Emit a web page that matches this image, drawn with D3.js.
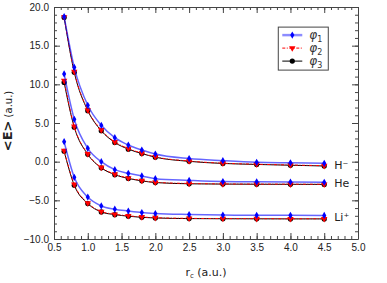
<!DOCTYPE html>
<html>
<head>
<meta charset="utf-8">
<script src="https://cdn.jsdelivr.net/npm/d3@7"></script>
<style>
body { margin: 0; background: #fff; }
svg { display: block; font-family: "DejaVu Sans", sans-serif; }
</style>
</head>
<body>
<svg></svg>
<script>
var width = 387;
var height = 283;
var margin = {
	top: 7,
	bottom: 44,
	left: 54,
	right: 29
};

// radial cutoff r_c (a.u.)
var rc = [0.65, 0.8, 1.0, 1.2, 1.4, 1.6, 1.8, 2.0, 2.5, 3.0, 3.5, 4.0, 4.5];

// energies <E> (a.u.)
var hPhi1 = [18.75, 12.2, 7.29, 4.7, 3.1, 2.15, 1.51, 0.99, 0.4, 0.13, -0.08, -0.15, -0.21];
var hPhi2 = [18.7, 11.64, 6.68, 4.1, 2.55, 1.7, 1.1, 0.62, 0.08, -0.2, -0.33, -0.43, -0.52];
var hPhi3 = [18.65, 11.55, 6.6, 4.0, 2.48, 1.62, 1.05, 0.58, 0.04, -0.23, -0.36, -0.46, -0.56];

var hePhi1 = [11.34, 5.48, 1.73, 0.0, -1.03, -1.51, -1.85, -2.2, -2.42, -2.57, -2.6, -2.63, -2.66];
var hePhi2 = [10.47, 4.55, 1.0, -0.75, -1.62, -2.12, -2.44, -2.67, -2.82, -2.88, -2.9, -2.91, -2.92];
var hePhi3 = [10.25, 4.45, 0.95, -0.8, -1.68, -2.17, -2.48, -2.7, -2.86, -2.9, -2.92, -2.93, -2.94];

var liPhi1 = [2.58, -2.02, -4.58, -5.73, -6.15, -6.38, -6.58, -6.7, -6.83, -6.9, -6.93, -6.94, -6.95];
var liPhi2 = [1.42, -2.95, -5.35, -6.45, -6.8, -7.0, -7.15, -7.25, -7.33, -7.36, -7.37, -7.38, -7.38];
var liPhi3 = [1.35, -3.05, -5.42, -6.5, -6.85, -7.05, -7.2, -7.28, -7.36, -7.38, -7.39, -7.4, -7.4];

var systems = ['H⁻', 'He', 'Li⁺'];
var xTicks = [0.5, 1.0, 1.5, 2.0, 2.5, 3.0, 3.5, 4.0, 4.5, 5.0];
var yTicks = [-10, -5, 0, 5, 10, 15, 20];

var w = width - margin.left - margin.right;
var h = height - margin.top - margin.bottom;

var svg = d3.select('svg')
	.attr('width', width)
	.attr('height', height);

var g = svg.append('g')
	.attr('transform', `translate(${margin.left},${margin.top})`);

var x = d3.scaleLinear()
	.range([0, w])
	.domain([0.5, 5.0]);

var y = d3.scaleLinear()
	.range([h, 0])
	.domain([-10, 20]);

// minor ticks first, then major ticks with labels
function frame(axisFn, scale, minor, major, fmt, transform, showLabels) {
	g.append('g')
		.attr('transform', transform)
		.call(axisFn(scale).tickValues(minor).tickSize(-3).tickFormat(''))
		.call(s => s.select('.domain').remove());
	var a = g.append('g')
		.attr('class', 'major')
		.attr('transform', transform)
		.call(axisFn(scale).tickValues(major).tickSize(-6).tickSizeOuter(0).tickPadding(5).tickFormat(showLabels ? fmt : ''));
	a.select('.domain').attr('stroke', '#444');
	a.selectAll('text').attr('font-size', 10).attr('fill', '#222');
	return a;
}

var xMinor = d3.range(5, 51).map(d => d / 10);
var yMinor = d3.range(-10, 21);
var fmtY = d => (d < 0 ? '\u2212' : '') + Math.abs(d).toFixed(1);

frame(d3.axisBottom, x, xMinor, xTicks, d3.format('.1f'), `translate(0,${h})`, true);
frame(d3.axisTop, x, xMinor, xTicks, null, 'translate(0,0)', false);
frame(d3.axisLeft, y, yMinor, yTicks, fmtY, 'translate(0,0)', true);
frame(d3.axisRight, y, yMinor, yTicks, null, `translate(${w},0)`, false);

g.selectAll('.tick line').attr('stroke', '#444');

// series
var styles = [
	{ key: 'phi3', color: 'black', width: 1, dash: null, symbol: 'circle', opacity: 1 },
	{ key: 'phi2', color: 'red', width: 1, dash: '3,1.5,1,1.5', symbol: 'tri', opacity: 1 },
	{ key: 'phi1', color: 'blue', width: 1.5, dash: null, symbol: 'diamond', opacity: 0.6 }
];

var seriesData = {
	phi1: [hPhi1, hePhi1, liPhi1],
	phi2: [hPhi2, hePhi2, liPhi2],
	phi3: [hPhi3, hePhi3, liPhi3]
};

var line = d3.line()
	.x(d => x(d.x))
	.y(d => y(d.y))
	.curve(d3.curveMonotoneX);

function marker(sel, kind, color) {
	if (kind === 'circle') {
		sel.append('circle').attr('r', 2.6).attr('fill', color);
	} else if (kind === 'tri') {
		sel.append('path').attr('d', d3.symbol(d3.symbolTriangle, 18)()).attr('transform', 'rotate(180)').attr('fill', color);
	} else {
		sel.append('path').attr('d', d3.symbol(d3.symbolDiamond, 15)()).attr('fill', color);
	}
}

styles.forEach(function(s) {
	seriesData[s.key].forEach(function(vals) {
		var pts = rc.map((r, i) => ({ x: r, y: vals[i] }));
		g.append('path')
			.attr('d', line(pts))
			.attr('fill', 'none')
			.attr('stroke', s.color)
			.attr('stroke-opacity', s.opacity)
			.attr('stroke-width', s.width)
			.attr('stroke-dasharray', s.dash);
		pts.forEach(function(p) {
			var m = g.append('g').attr('transform', `translate(${x(p.x)},${y(p.y)})`);
			marker(m, s.symbol, s.color);
		});
	});
});

// system labels at the right end
var lastIdx = rc.length - 1;
var labelY = [(hPhi1[lastIdx] + hPhi3[lastIdx]) / 2, (hePhi1[lastIdx] + hePhi3[lastIdx]) / 2, (liPhi1[lastIdx] + liPhi3[lastIdx]) / 2];
systems.forEach(function(name, i) {
	g.append('text')
		.attr('x', x(4.5) + 10)
		.attr('y', y(labelY[i]) + 4)
		.attr('font-size', 11)
		.attr('fill', '#222')
		.text(name);
});

// legend
var legend = g.append('g').attr('transform', `translate(${x(3.82)},${y(17.4)})`);
legend.append('rect')
	.attr('width', 50)
	.attr('height', 43)
	.attr('fill', 'white')
	.attr('stroke', '#444')
	.attr('stroke-width', 1);

var legendItems = [
	{ style: styles[2], sub: '1' },
	{ style: styles[1], sub: '2' },
	{ style: styles[0], sub: '3' }
];
legendItems.forEach(function(it, i) {
	var row = legend.append('g').attr('transform', `translate(0,${8 + i * 13})`);
	row.append('line')
		.attr('x1', 4).attr('x2', 24)
		.attr('stroke', it.style.color)
		.attr('stroke-opacity', it.style.key === 'phi1' ? 0.45 : 1)
		.attr('stroke-width', it.style.key === 'phi1' ? 2.5 : 1)
		.attr('stroke-dasharray', it.style.dash);
	var m = row.append('g').attr('transform', 'translate(14,0)');
	marker(m, it.style.symbol, it.style.color);
	var t = row.append('text')
		.attr('x', 31)
		.attr('y', 4)
		.attr('font-size', 12)
		.attr('font-style', 'italic')
		.attr('fill', '#333');
	t.append('tspan').text('\u03c6');
	t.append('tspan').attr('font-size', 8).attr('font-style', 'normal').attr('dy', 3).text(it.sub);
});

// axis titles
var xt = svg.append('text')
	.attr('x', margin.left + w / 2)
	.attr('y', 276)
	.attr('text-anchor', 'middle')
	.attr('font-size', 11)
	.attr('fill', '#222');
xt.append('tspan').text('r');
xt.append('tspan').attr('font-size', 7).attr('dy', 2).text('c');
xt.append('tspan').attr('dy', -2).text(' (a.u.)');

var yt = svg.append('text')
	.attr('transform', `translate(12,${margin.top + h / 2 - 2}) rotate(-90)`)
	.attr('text-anchor', 'middle')
	.attr('fill', '#222');
yt.append('tspan').attr('font-size', 13).attr('font-weight', 'bold').text('<E>');
yt.append('tspan').attr('font-size', 10).text(' (a.u.)');
</script>
</body>
</html>
